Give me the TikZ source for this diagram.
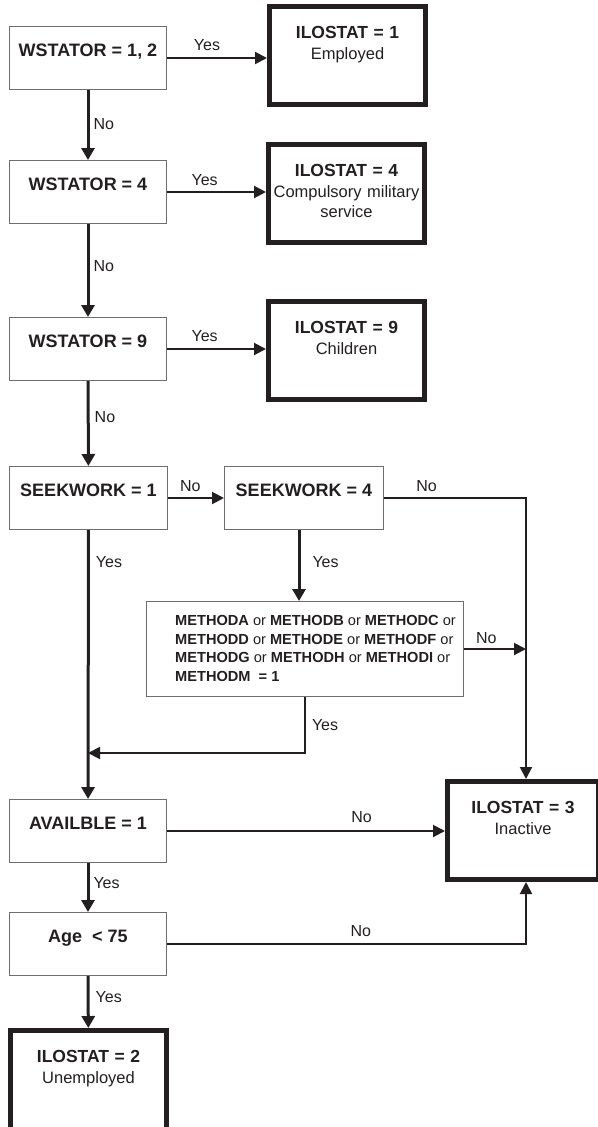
\documentclass[tikz,border=0pt]{standalone}
\usepackage{fontspec}
\setmainfont{Liberation Sans}
\usepackage{xcolor}
\usetikzlibrary{arrows.meta}
\definecolor{inkdark}{HTML}{231F20}
\definecolor{framegray}{HTML}{6D6E71}

\tikzset{
  testbox/.style={draw=framegray, line width=1pt, anchor=north west,
    minimum width=157pt, inner xsep=0pt, inner ysep=0pt,
    text height=30pt, text depth=33pt, text=inkdark,
    font=\fontsize{18}{21}\selectfont\bfseries},
  resultbox/.style={draw=inkdark, line width=5pt, anchor=north west,
    minimum width=156pt, inner xsep=3pt, inner ysep=0pt,
    text width=150pt, align=center,
    text height=31.5pt, text depth=66.5pt, text=inkdark,
    font=\fontsize{16.5}{19.5}\selectfont},
  methodbox/.style={draw=framegray, line width=1pt, anchor=north west,
    minimum width=317pt, inner xsep=0pt, inner ysep=0pt,
    text height=24pt, text depth=71pt, text=inkdark,
    font=\fontsize{14.6}{18.7}\selectfont},
  flow/.style={draw=inkdark, line width=2pt,
    -{Triangle[length=12pt, width=12pt]}},
  trunk/.style={flow, line width=3pt, -{Triangle[length=12pt, width=13pt]}},
  lbl/.style={text=inkdark, inner sep=2pt, font=\fontsize{16}{19}\selectfont},
}

\begin{document}
\begin{tikzpicture}[x=1pt, y=-1pt]
  \useasboundingbox (0,0) rectangle (597,1127);

  % tests on the left
  \node[testbox] (ws12) at (9,26) {WSTATOR = 1, 2};
  \node[testbox] (ws4) at (9,160) {WSTATOR = 4};
  \node[testbox] (ws9) at (9,317) {WSTATOR = 9};
  \node[testbox, minimum width=158pt] (seek1) at (9,466) {SEEKWORK = 1};
  \node[testbox, minimum width=159pt] (seek4) at (224,466) {SEEKWORK = 4};
  \node[methodbox] (methods) at (146,601) {%
    \begin{tabular}[t]{@{\hspace{26pt}}l@{\hspace{5pt}}}
    \textbf{METHODA} or \textbf{METHODB} or \textbf{METHODC} or\\
    \textbf{METHODD} or \textbf{METHODE} or \textbf{METHODF} or\\
    \textbf{METHODG} or \textbf{METHODH} or \textbf{METHODI} or\\
    \textbf{METHODM\ \ = 1}
    \end{tabular}};
  \node[testbox] (avail) at (9,799) {AVAILBLE = 1};
  \node[testbox] (age) at (9,912) {Age\ \ < 75};

  % outcomes
  \node[resultbox] (il1) at (267,4)
    {{\bfseries\fontsize{17.5}{21}\selectfont ILOSTAT = 1}\\[2pt] Employed};
  \node[resultbox] (il4) at (266,142)
    {{\bfseries\fontsize{17.5}{21}\selectfont ILOSTAT = 4}\\[2pt] Compulsory military\\ service};
  \node[resultbox] (il9) at (266,299)
    {{\bfseries\fontsize{17.5}{21}\selectfont ILOSTAT = 9}\\[2pt] Children};
  \node[resultbox, minimum width=151pt, text width=145pt] (il3) at (445,779)
    {{\bfseries\fontsize{17.5}{21}\selectfont ILOSTAT = 3}\\[2pt] Inactive};
  \node[resultbox, text depth=80pt] (il2) at (8,1028)
    {{\bfseries\fontsize{17.5}{21}\selectfont ILOSTAT = 2}\\[2pt] Unemployed};

  \coordinate (rail) at (526,0);
  \coordinate (join) at (88,753);

  % connectors
  \draw[flow] (ws12.east) -- (ws12.east -| il1.west) node[lbl, pos=.4, above=4pt] {Yes};
  \draw[trunk] (ws12) -- (ws4) node[lbl, pos=.48, right=2pt] {No};
  \draw[flow] (ws4.east) -- (ws4.east -| il4.west) node[lbl, pos=.38, above=3pt] {Yes};
  \draw[trunk] (ws4) -- (ws9) node[lbl, pos=.45, right=2pt] {No};
  \draw[flow] (ws9.east) -- (ws9.east -| il9.west) node[lbl, pos=.38, above=4pt] {Yes};
  \draw[trunk] (ws9) -- (seek1) node[lbl, pos=.43, right=3pt] {No};
  \draw[flow] (seek1) -- (seek4) node[lbl, pos=.4, above=3pt] {No};
  \draw[flow] (seek4.east) -| (rail |- il3.north) node[lbl, pos=.15, above=3pt] {No};
  \draw[trunk] ([xshift=-5pt]seek4.south) -- ([xshift=-6pt]methods.north)
    node[lbl, pos=.45, right=10pt] {Yes};
  \draw[flow] (methods.east) -- (methods.east -| rail) node[lbl, pos=.36, above=2.5pt] {No};
  \draw[flow] (methods.south) |- (join) node[lbl, pos=.25, right=4pt] {Yes};
  \draw[trunk] (seek1) -- (avail) node[lbl, pos=.12, right=4pt] {Yes};
  \draw[flow] (avail.east) -- (avail.east -| il3.west) node[lbl, pos=.7, above=5pt] {No};
  \draw[trunk] (avail) -- (age) node[lbl, pos=.4, right=2pt] {Yes};
  \draw[flow] (age.east) -| (rail |- il3.south) node[lbl, pos=.27, above=4pt] {No};
  \draw[trunk] (age) -- (il2) node[lbl, pos=.4, right=4pt] {Yes};
\end{tikzpicture}
\end{document}
